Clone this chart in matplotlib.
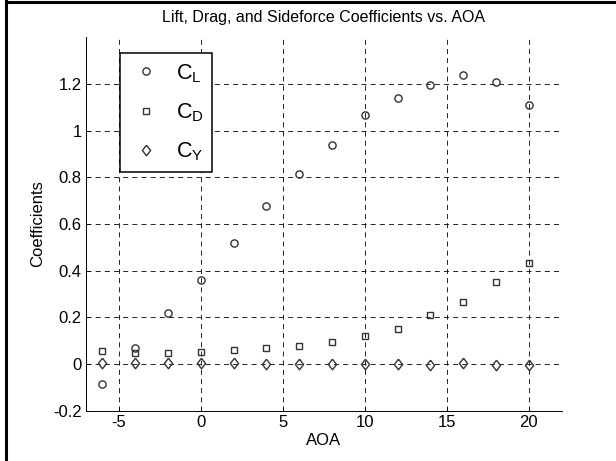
import numpy as np
import matplotlib
matplotlib.use("Agg")
import matplotlib.pyplot as plt
from matplotlib.lines import Line2D

plt.rcParams['font.family'] = ['Liberation Sans', 'DejaVu Sans']
plt.rcParams['mathtext.fontset'] = 'custom'
plt.rcParams['mathtext.rm'] = 'Liberation Sans'
plt.rcParams['axes.unicode_minus'] = False

# data
aoa = [-6, -4, -2, 0, 2, 4, 6, 8, 10, 12, 14, 16, 18, 20]
c_lift = [-0.087, 0.067, 0.217, 0.36, 0.52, 0.675, 0.815, 0.937, 1.068, 1.141, 1.197, 1.237, 1.21, 1.11]
c_drag = [0.056, 0.046, 0.048, 0.051, 0.059, 0.067, 0.078, 0.095, 0.12, 0.15, 0.211, 0.267, 0.35, 0.435]
c_side = [0.003, 0.003, 0.003, 0.003, 0.003, 0.002, 0.002, -0.001, 0.0, 0.0, -0.003, 0.005, -0.003, -0.006]

x_ticks = [-5, 0, 5, 10, 15, 20]
y_ticks = [-0.2, 0, 0.2, 0.4, 0.6, 0.8, 1, 1.2]
y_tick_labels = ['-0.2', '0', '0.2', '0.4', '0.6', '0.8', '1', '1.2']

# MATLAB-like diamond: a bit wider than matplotlib's thin 'd'
diamond = [(0, 1), (0.78, 0), (0, -1), (-0.78, 0), (0, 1)]

fig = plt.figure(figsize=(6.16, 4.61), dpi=100)
ax = fig.add_axes([0.1396, 0.1091, 0.7723, 0.8100])

mk = dict(linestyle='none', markerfacecolor='none', markeredgecolor='#333333',
          markeredgewidth=1.0, zorder=3)
ax.plot(aoa, c_lift, marker='o', markersize=5.2, label=r'$\mathrm{C_L}$', **mk)
ax.plot(aoa, c_drag, marker='s', markersize=5.0, label=r'$\mathrm{C_D}$', **mk)
ax.plot(aoa, c_side, marker=diamond, markersize=7.6, label=r'$\mathrm{C_Y}$', **mk)

ax.set_xlim(-7, 22)
ax.set_ylim(-0.2, 1.4)
ax.set_xticks(x_ticks)
ax.set_yticks(y_ticks)
ax.set_yticklabels(y_tick_labels)
ax.tick_params(direction='in', length=3, width=0.6, labelsize=12, pad=3)

ax.grid(True, color='black', linestyle=(0, (6, 5)), linewidth=0.6)
ax.set_axisbelow(True)
for s in ['top', 'right']:
    ax.spines[s].set_visible(False)
for s in ['left', 'bottom']:
    ax.spines[s].set_linewidth(0.7)

ax.set_title('Lift, Drag, and Sideforce Coefficients vs. AOA', fontsize=11.5, pad=11)
ax.set_xlabel('AOA', fontsize=12, labelpad=2)
ax.set_ylabel('Coefficients', fontsize=12, labelpad=6)

leg = ax.legend(loc='upper left', bbox_to_anchor=(0.0715, 0.957), fontsize=15.5,
                frameon=True, fancybox=False, framealpha=1, edgecolor='black',
                borderpad=0.4, labelspacing=0.78, handlelength=1.6,
                handletextpad=0.6, borderaxespad=0)
leg.get_frame().set_linewidth(1.1)

# figure frame on top and left edges
fig.add_artist(Line2D([0.0097, 0.0097], [0, 1], color='black', linewidth=2.2,
                      transform=fig.transFigure))
fig.add_artist(Line2D([0.0097, 1], [0.9965, 0.9965], color='black', linewidth=2.2,
                      transform=fig.transFigure))

fig.savefig('out.png', dpi=100)
